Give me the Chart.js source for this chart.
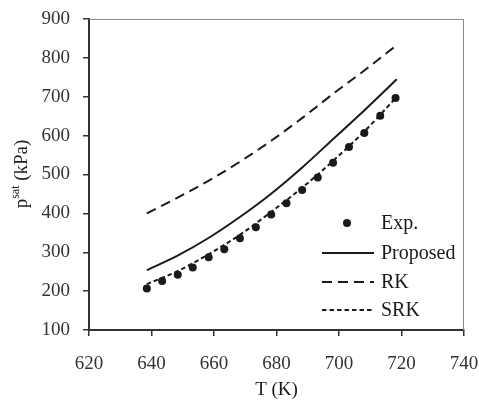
<!DOCTYPE html>
<html>
<head>
<meta charset="utf-8">
<script src="https://cdn.jsdelivr.net/npm/chart.js@4.4.0/dist/chart.umd.min.js"></script>
<style>
  html, body { margin: 0; padding: 0; background: #fff; }
  #wrap { width: 479px; height: 400px; position: relative; }
</style>
</head>
<body>
<div id="wrap"><canvas id="c"></canvas></div>
<script>
// experimental points
const tExp = [638.5, 643.4, 648.4, 653.2, 658.3, 663.3, 668.3, 673.4, 678.3, 683.2, 688.2, 693.2, 698.1, 703.2, 708.1, 713.2, 718.1];
const pExp = [207, 226, 242, 261, 287, 308, 336, 364, 397, 426, 460, 492, 530, 571, 607, 651, 697];

// model curves
const tModel = [638.5, 648.5, 658.5, 668.5, 678.5, 688.5, 698.5, 708.5, 718.5];
const pProposed = [254, 292, 338, 392, 452, 520, 594, 668, 745];
const pRK = [400, 441, 485, 534, 588, 647, 710, 770, 833];
const pSRK = [218, 252, 296, 346, 405, 468, 538, 614, 700];

const xTicks = [620, 640, 660, 680, 700, 720, 740];
const yTicks = [100, 200, 300, 400, 500, 600, 700, 800, 900];

const serif = '"Liberation Serif", "Times New Roman", serif';
const ink = '#1a1a1a';

const pts = (xs, ys) => xs.map((x, i) => ({ x: x, y: ys[i] }));

// thin frame on top/right
const framePlugin = {
  id: 'frame',
  beforeDatasetsDraw(chart) {
    const a = chart.chartArea, ctx = chart.ctx;
    ctx.save();
    ctx.strokeStyle = '#8a8a8a';
    ctx.lineWidth = 1;
    ctx.beginPath();
    ctx.moveTo(a.left, a.top + 0.5);
    ctx.lineTo(a.right - 0.5, a.top + 0.5);
    ctx.lineTo(a.right - 0.5, a.bottom);
    ctx.stroke();
    ctx.restore();
  }
};

// y title with superscript, and the legend inside the plot
const textPlugin = {
  id: 'texts',
  afterDraw(chart) {
    const ctx = chart.ctx;
    ctx.save();
    ctx.fillStyle = ink;
    ctx.translate(20, 174);
    ctx.rotate(-Math.PI / 2);
    const big = '19px ' + serif, small = '12px ' + serif;
    ctx.font = big; const w1 = ctx.measureText('p').width;
    ctx.font = small; const w2 = ctx.measureText('sat').width;
    ctx.font = big; const w3 = ctx.measureText(' (kPa)').width;
    let x = -(w1 + w2 + w3) / 2;
    ctx.textBaseline = 'middle';
    ctx.font = big; ctx.fillText('p', x, 2); x += w1;
    ctx.font = small; ctx.fillText('sat', x, -4); x += w2;
    ctx.font = big; ctx.fillText(' (kPa)', x, 2);
    ctx.restore();

    // legend
    const rows = [223, 253, 282, 310];
    ctx.save();
    ctx.font = '20px ' + serif;
    ctx.textBaseline = 'middle';
    chart.data.datasets.forEach((ds, i) => {
      const y = rows[i];
      ctx.strokeStyle = ink;
      ctx.fillStyle = ink;
      if (ds.showLine) {
        ctx.lineWidth = ds.borderWidth;
        ctx.setLineDash(ds.borderDash || []);
        ctx.beginPath();
        ctx.moveTo(322, y);
        ctx.lineTo(374, y);
        ctx.stroke();
        ctx.setLineDash([]);
      } else {
        ctx.beginPath();
        ctx.arc(347, y, ds.pointRadius, 0, Math.PI * 2);
        ctx.fill();
      }
      ctx.fillText(ds.label, 381, y + 1);
    });
    ctx.restore();
  }
};

const ctx = document.getElementById('c').getContext('2d');
new Chart(ctx, {
  type: 'scatter',
  data: {
    datasets: [
      {
        label: 'Exp.',
        data: pts(tExp, pExp),
        showLine: false,
        pointRadius: 4,
        pointBackgroundColor: ink,
        pointBorderColor: ink,
        pointBorderWidth: 0
      },
      {
        label: 'Proposed',
        data: pts(tModel, pProposed),
        showLine: true,
        borderColor: ink,
        borderWidth: 2,
        pointRadius: 0,
        cubicInterpolationMode: 'monotone'
      },
      {
        label: 'RK',
        data: pts(tModel, pRK),
        showLine: true,
        borderColor: ink,
        borderWidth: 2,
        borderDash: [10, 6],
        pointRadius: 0,
        cubicInterpolationMode: 'monotone'
      },
      {
        label: 'SRK',
        data: pts(tModel, pSRK),
        showLine: true,
        borderColor: ink,
        borderWidth: 2,
        borderDash: [4.5, 3],
        pointRadius: 0,
        cubicInterpolationMode: 'monotone'
      }
    ]
  },
  options: {
    responsive: true,
    maintainAspectRatio: false,
    animation: false,
    events: [],
    layout: { padding: { top: 19, right: 15, left: 0, bottom: 0 } },
    plugins: {
      legend: { display: false },
      tooltip: { enabled: false },
      title: { display: false }
    },
    scales: {
      x: {
        type: 'linear',
        min: 620,
        max: 740,
        afterFit: (s) => { s.height = 70; s.paddingLeft = 0; s.paddingRight = 0; },
        afterBuildTicks: (s) => { s.ticks = xTicks.map(v => ({ value: v })); },
        border: { color: '#333', width: 2 },
        grid: { drawOnChartArea: false, drawTicks: true, tickLength: 6, color: '#333', lineWidth: 1.5 },
        ticks: { font: { family: serif, size: 19 }, color: '#333', padding: 17, maxRotation: 0 },
        title: { display: true, text: 'T (K)', font: { family: serif, size: 19, lineHeight: 1 }, color: ink, padding: { top: 0, bottom: 0 } }
      },
      y: {
        type: 'linear',
        min: 100,
        max: 900,
        afterFit: (s) => { s.width = 89; s.paddingTop = 0; s.paddingBottom = 0; },
        afterBuildTicks: (s) => { s.ticks = yTicks.map(v => ({ value: v })); },
        border: { color: '#333', width: 2 },
        grid: { drawOnChartArea: false, drawTicks: true, tickLength: 6, color: '#333', lineWidth: 1.5 },
        ticks: { font: { family: serif, size: 19 }, color: '#333', padding: 13 }
      }
    }
  },
  plugins: [framePlugin, textPlugin]
});
</script>
</body>
</html>
